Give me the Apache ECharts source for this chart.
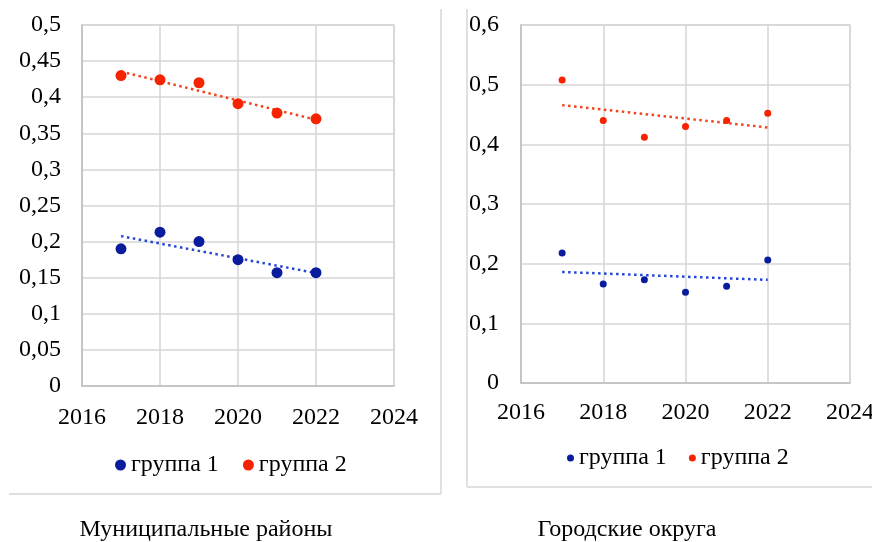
<!DOCTYPE html>
<html>
<head>
<meta charset="utf-8">
<script src="https://cdn.jsdelivr.net/npm/echarts@6/dist/echarts.min.js"></script>
<style>html,body{margin:0;padding:0;background:#fff}#c{width:872px;height:542px}</style>
</head>
<body>
<div id="c"></div>
<script>
var years = [2017, 2018, 2019, 2020, 2021, 2022];
var mrGroup1 = [0.19, 0.213, 0.2, 0.175, 0.157, 0.157];
var mrGroup2 = [0.43, 0.424, 0.42, 0.391, 0.378, 0.37];
var goGroup1 = [0.218, 0.166, 0.173, 0.152, 0.162, 0.206];
var goGroup2 = [0.508, 0.44, 0.412, 0.43, 0.44, 0.452];
var legendNames = ['группа 1', 'группа 2'];
var panelTitles = ['Муниципальные районы', 'Городские округа'];

var BLUE = '#0a1c9e', RED = '#f52300';
var BLUE_T = '#2446d6', RED_T = '#f2431c';
var FONT = '"Liberation Serif", "Times New Roman", serif';

function pts(xs, ys) { return xs.map(function (x, i) { return [x, ys[i]]; }); }
function trend(xs, ys) {
  var n = xs.length, mx = 0, my = 0;
  for (var i = 0; i < n; i++) { mx += xs[i]; my += ys[i]; }
  mx /= n; my /= n;
  var sxy = 0, sxx = 0;
  for (i = 0; i < n; i++) { sxy += (xs[i] - mx) * (ys[i] - my); sxx += (xs[i] - mx) * (xs[i] - mx); }
  var b = sxy / sxx, a = my - b * mx;
  var x0 = xs[0], x1 = xs[n - 1];
  return [[x0, a + b * x0], [x1, a + b * x1]];
}
function fmtY(v) { return String(+v.toFixed(2)).replace('.', ','); }

var axisLabelStyle = { color: '#000', fontFamily: FONT, fontSize: 24 };
function xAxis(gi, margin) {
  return {
    type: 'value', gridIndex: gi, min: 2016, max: 2024, interval: 2,
    axisLine: { show: true, lineStyle: { color: '#bfbfbf', width: 1.5 } },
    axisTick: { show: false },
    splitLine: { show: true, lineStyle: { color: '#d6d6d6', width: 1.5 } },
    axisLabel: Object.assign({ margin: margin, formatter: function (v) { return String(v); } }, axisLabelStyle)
  };
}
function yAxis(gi, max, interval, margin) {
  return {
    type: 'value', gridIndex: gi, min: 0, max: max, interval: interval,
    axisLine: { show: true, lineStyle: { color: '#bfbfbf', width: 1.5 } },
    axisTick: { show: false },
    splitLine: { show: true, lineStyle: { color: '#d6d6d6', width: 1.5 } },
    axisLabel: Object.assign({ margin: margin, formatter: fmtY }, axisLabelStyle)
  };
}
function scatter(name, gi, data, color, size) {
  return { name: name, type: 'scatter', xAxisIndex: gi, yAxisIndex: gi, data: data,
    symbol: 'circle', symbolSize: size, itemStyle: { color: color, opacity: 1 }, z: 3 };
}
function tline(gi, data, color) {
  return { type: 'line', xAxisIndex: gi, yAxisIndex: gi, data: data, symbol: 'none',
    silent: true, lineStyle: { color: color, width: 2.5, type: [2.5, 3.5] }, z: 2 };
}

var chart = echarts.init(document.getElementById('c'), null, { renderer: 'canvas' });
chart.setOption({
  animation: false,
  backgroundColor: '#fff',
  grid: [
    { left: 82, top: 25, width: 312, height: 361, outerBoundsMode: 'none', containLabel: false, show: true, borderColor: '#d6d6d6', borderWidth: 1.5 },
    { left: 521, top: 25, width: 329, height: 358, outerBoundsMode: 'none', containLabel: false, show: true, borderColor: '#d6d6d6', borderWidth: 1.5 }
  ],
  xAxis: [xAxis(0, 20), xAxis(1, 18)],
  yAxis: [yAxis(0, 0.5, 0.05, 21), yAxis(1, 0.6, 0.1, 22)],
  legend: [
    { data: ['a1', 'a2'], left: 110, top: 448, icon: 'circle', itemWidth: 11, itemHeight: 11, itemGap: 24,
      formatter: function (n) { return n === 'a1' ? legendNames[0] : legendNames[1]; },
      textStyle: { color: '#000', fontFamily: FONT, fontSize: 24 } },
    { data: ['b1', 'b2'], left: 562, top: 441, icon: 'circle', itemWidth: 7, itemHeight: 7, itemGap: 22,
      formatter: function (n) { return n === 'b1' ? legendNames[0] : legendNames[1]; },
      textStyle: { color: '#000', fontFamily: FONT, fontSize: 24 } }
  ],
  series: [
    tline(0, trend(years, mrGroup1), BLUE_T),
    tline(0, trend(years, mrGroup2), RED_T),
    scatter('a1', 0, pts(years, mrGroup1), BLUE, 11),
    scatter('a2', 0, pts(years, mrGroup2), RED, 11),
    tline(1, trend(years, goGroup1), BLUE_T),
    tline(1, trend(years, goGroup2), RED_T),
    scatter('b1', 1, pts(years, goGroup1), BLUE, 7),
    scatter('b2', 1, pts(years, goGroup2), RED, 7)
  ],
  graphic: [
    { type: 'line', shape: { x1: 441, y1: 9, x2: 441, y2: 494 }, style: { stroke: '#d6d6d6', lineWidth: 1.5 } },
    { type: 'line', shape: { x1: 9, y1: 494, x2: 441, y2: 494 }, style: { stroke: '#d6d6d6', lineWidth: 1.5 } },
    { type: 'line', shape: { x1: 467, y1: 9, x2: 467, y2: 487 }, style: { stroke: '#d6d6d6', lineWidth: 1.5 } },
    { type: 'line', shape: { x1: 467, y1: 487, x2: 872, y2: 487 }, style: { stroke: '#d6d6d6', lineWidth: 1.5 } },
    { type: 'text', x: 206, y: 530, style: { text: panelTitles[0], fill: '#000', font: '24px ' + FONT, textAlign: 'center', textVerticalAlign: 'middle' } },
    { type: 'text', x: 627, y: 530, style: { text: panelTitles[1], fill: '#000', font: '24px ' + FONT, textAlign: 'center', textVerticalAlign: 'middle' } }
  ]
});
</script>
</body>
</html>
